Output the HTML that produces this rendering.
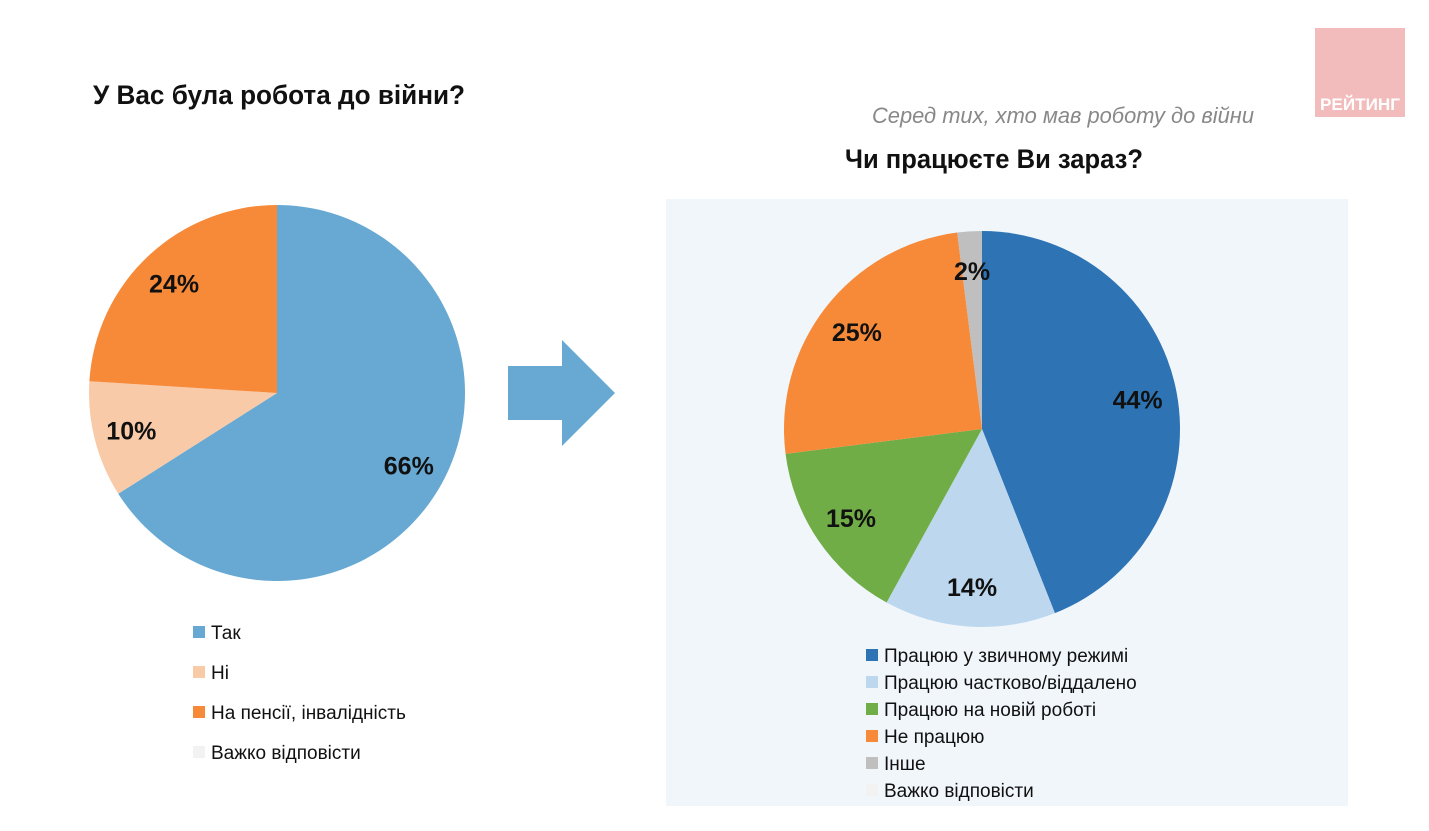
<!DOCTYPE html>
<html><head><meta charset="utf-8"><style>
body{margin:0;background:#fff;}
svg{display:block;font-family:"Liberation Sans",sans-serif;}
</style></head><body>
<svg width="1429" height="831" viewBox="0 0 1429 831">
<rect x="1315" y="28" width="90" height="89" fill="#f2bcbc"/>
<text x="1360" y="110" text-anchor="middle" font-size="17" font-weight="bold" fill="#fff" textLength="80" lengthAdjust="spacingAndGlyphs">РЕЙТИНГ</text>
<text x="93" y="104" font-size="27" font-weight="bold" fill="#111" textLength="372" lengthAdjust="spacingAndGlyphs">У Вас була робота до війни?</text>
<text x="872" y="123" font-size="22" font-style="italic" fill="#888" textLength="382" lengthAdjust="spacingAndGlyphs">Серед тих, хто мав роботу до війни</text>
<text x="845" y="168" font-size="27" font-weight="bold" fill="#111" textLength="298" lengthAdjust="spacingAndGlyphs">Чи працюєте Ви зараз?</text>
<rect x="666" y="199" width="682" height="607" fill="#f1f6fb"/>
<polygon points="508,366 562,366 562,340 615,393 562,446 562,420 508,420" fill="#67a9d3"/>
<g id="left"></g><g id="right"></g>
</svg>
<script>
const leftCats=["Так","Ні","На пенсії, інвалідність","Важко відповісти"];
const leftVals=[66,10,24,0];
const leftLabels=["66%","10%","24%",""];
const leftColors=["#67a9d3","#f8caa8","#f78a38","#f2f2f2"];
const rightCats=["Працюю у звичному режимі","Працюю частково/віддалено","Працюю на новій роботі","Не працюю","Інше","Важко відповісти"];
const rightVals=[44,14,15,25,2,0];
const rightLabels=["44%","14%","15%","25%","2%",""];
const rightColors=["#2e74b5","#bdd7ee","#70ad47","#f78a38","#bfbfbf","#f2f2f2"];
const NS="http://www.w3.org/2000/svg";
function mk(t,a,p){const e=document.createElementNS(NS,t);for(const k in a)e.setAttribute(k,a[k]);p.appendChild(e);return e;}
function pie(g,cx,cy,r,vals,colors,labels,cats,lx,ly,lstep,prefix){
  const tot=vals.reduce((a,b)=>a+b,0);let a0=0;
  vals.forEach((v,i)=>{
    const a1=a0+v/tot*2*Math.PI;
    if(v>0){
      const x0=cx+r*Math.sin(a0),y0=cy-r*Math.cos(a0),x1=cx+r*Math.sin(a1),y1=cy-r*Math.cos(a1);
      const p=mk("path",{d:`M${cx},${cy}L${x0},${y0}A${r},${r} 0 ${a1-a0>Math.PI?1:0} 1 ${x1},${y1}Z`,fill:colors[i]},g);
      
      
      const m=(a0+a1)/2,d=r*0.8;
      const t=mk("text",{x:cx+d*Math.sin(m),y:cy-d*Math.cos(m)+9,"text-anchor":"middle","font-size":"25","font-weight":"bold",fill:"#111"},g);
      t.textContent=labels[i];
      
      
    }
    a0=a1;
  });
  cats.forEach((c,i)=>{
    const y=ly+i*lstep;
    const s=mk("rect",{x:lx,y:y-6,width:12,height:12,fill:colors[i]},g);
    
    
    const t=mk("text",{x:lx+18,y:y+7,"font-size":"19",fill:"#111"},g);
    t.textContent=c;
    
    
  });
}
pie(document.getElementById("left"),277,393,188,leftVals,leftColors,leftLabels,leftCats,193,632,40,"left");
pie(document.getElementById("right"),982,429,198,rightVals,rightColors,rightLabels,rightCats,866,655,27,"right");
</script>
</body></html>
